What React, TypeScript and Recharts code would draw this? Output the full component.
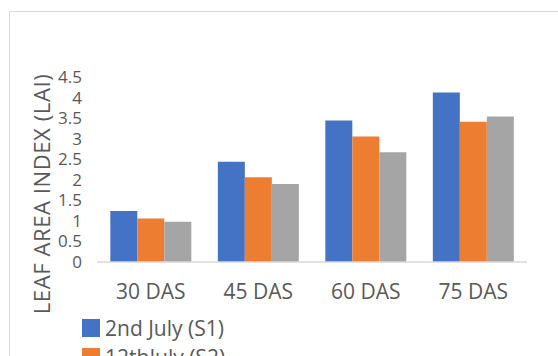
import React from "react";
import { BarChart, Bar, XAxis, YAxis, Legend } from "recharts";

const categories = ["30 DAS", "45 DAS", "60 DAS", "75 DAS"];
const s1 = [1.24, 2.44, 3.44, 4.12];
const s2 = [1.06, 2.06, 3.05, 3.41];
const s3 = [0.98, 1.9, 2.67, 3.54];
const seriesNames = ["2nd July (S1)", "12thJuly (S2)", "22nd July (S3)"];
const seriesColors = ["#4472C4", "#ED7D31", "#A5A5A5"];
const yTicks = [0, 0.5, 1, 1.5, 2, 2.5, 3, 3.5, 4, 4.5];
const yTitle = "LEAF AREA INDEX (LAI)";

const data = categories.map((c, i) => ({ name: c, s1: s1[i], s2: s2[i], s3: s3[i] }));
const keys = ["s1", "s2", "s3"];
const FONT = "'Open Sans', sans-serif";

const LegendContent = () => (
  <div style={{ fontFamily: FONT, fontSize: 21, color: "#595959" }}>
    {seriesNames.map((n, i) => (
      <div key={n} style={{ display: "flex", alignItems: "center", height: 29, whiteSpace: "nowrap" }}>
        <span style={{ display: "inline-block", width: 18, height: 18, background: seriesColors[i], marginRight: 5 }} />
        <span>{n}</span>
      </div>
    ))}
  </div>
);

const YTitle = () => (
  <text
    x={41}
    y={194}
    transform="rotate(-90, 41, 194)"
    textAnchor="middle"
    dominantBaseline="central"
    fontFamily={FONT}
    fontSize={22}
    letterSpacing={0.6}
    fill="#595959"
  >
    {yTitle}
  </text>
);

export default function App() {
  return (
    <div style={{ position: "absolute", left: 0, top: 0, width: 558, height: 356, overflow: "hidden", background: "#fff" }}>
      <div style={{ position: "absolute", left: 9, top: 11, width: 700, height: 500, border: "1px solid #d9d9d9" }} />
      <BarChart
        width={558}
        height={356}
        data={data}
        margin={{ top: 77, right: 31, bottom: 64, left: 0 }}
        barCategoryGap="12.4%"
        barGap={0}
      >
        <XAxis
          dataKey="name"
          height={30}
          axisLine={{ stroke: "#d9d9d9", strokeWidth: 1.5 }}
          tickLine={false}
          tickSize={0}
          tickMargin={22}
          tick={{ fontFamily: FONT, fontSize: 21, fill: "#595959" }}
          interval={0}
        />
        <YAxis
          width={97}
          domain={[0, 4.5]}
          ticks={yTicks}
          interval={0}
          axisLine={false}
          tickLine={false}
          tickSize={0}
          tickMargin={15}
          tick={{ fontFamily: FONT, fontSize: 17, fill: "#595959" }}
          label={<YTitle />}
        />
        <Legend
          layout="vertical"
          align="center"
          verticalAlign="middle"
          content={<LegendContent />}
          wrapperStyle={{ position: "absolute", left: 82, top: 313, width: 300 }}
        />
        {keys.map((k, i) => (
          <Bar key={k} dataKey={k} name={seriesNames[i]} fill={seriesColors[i]} isAnimationActive={false} />
        ))}
      </BarChart>
    </div>
  );
}
